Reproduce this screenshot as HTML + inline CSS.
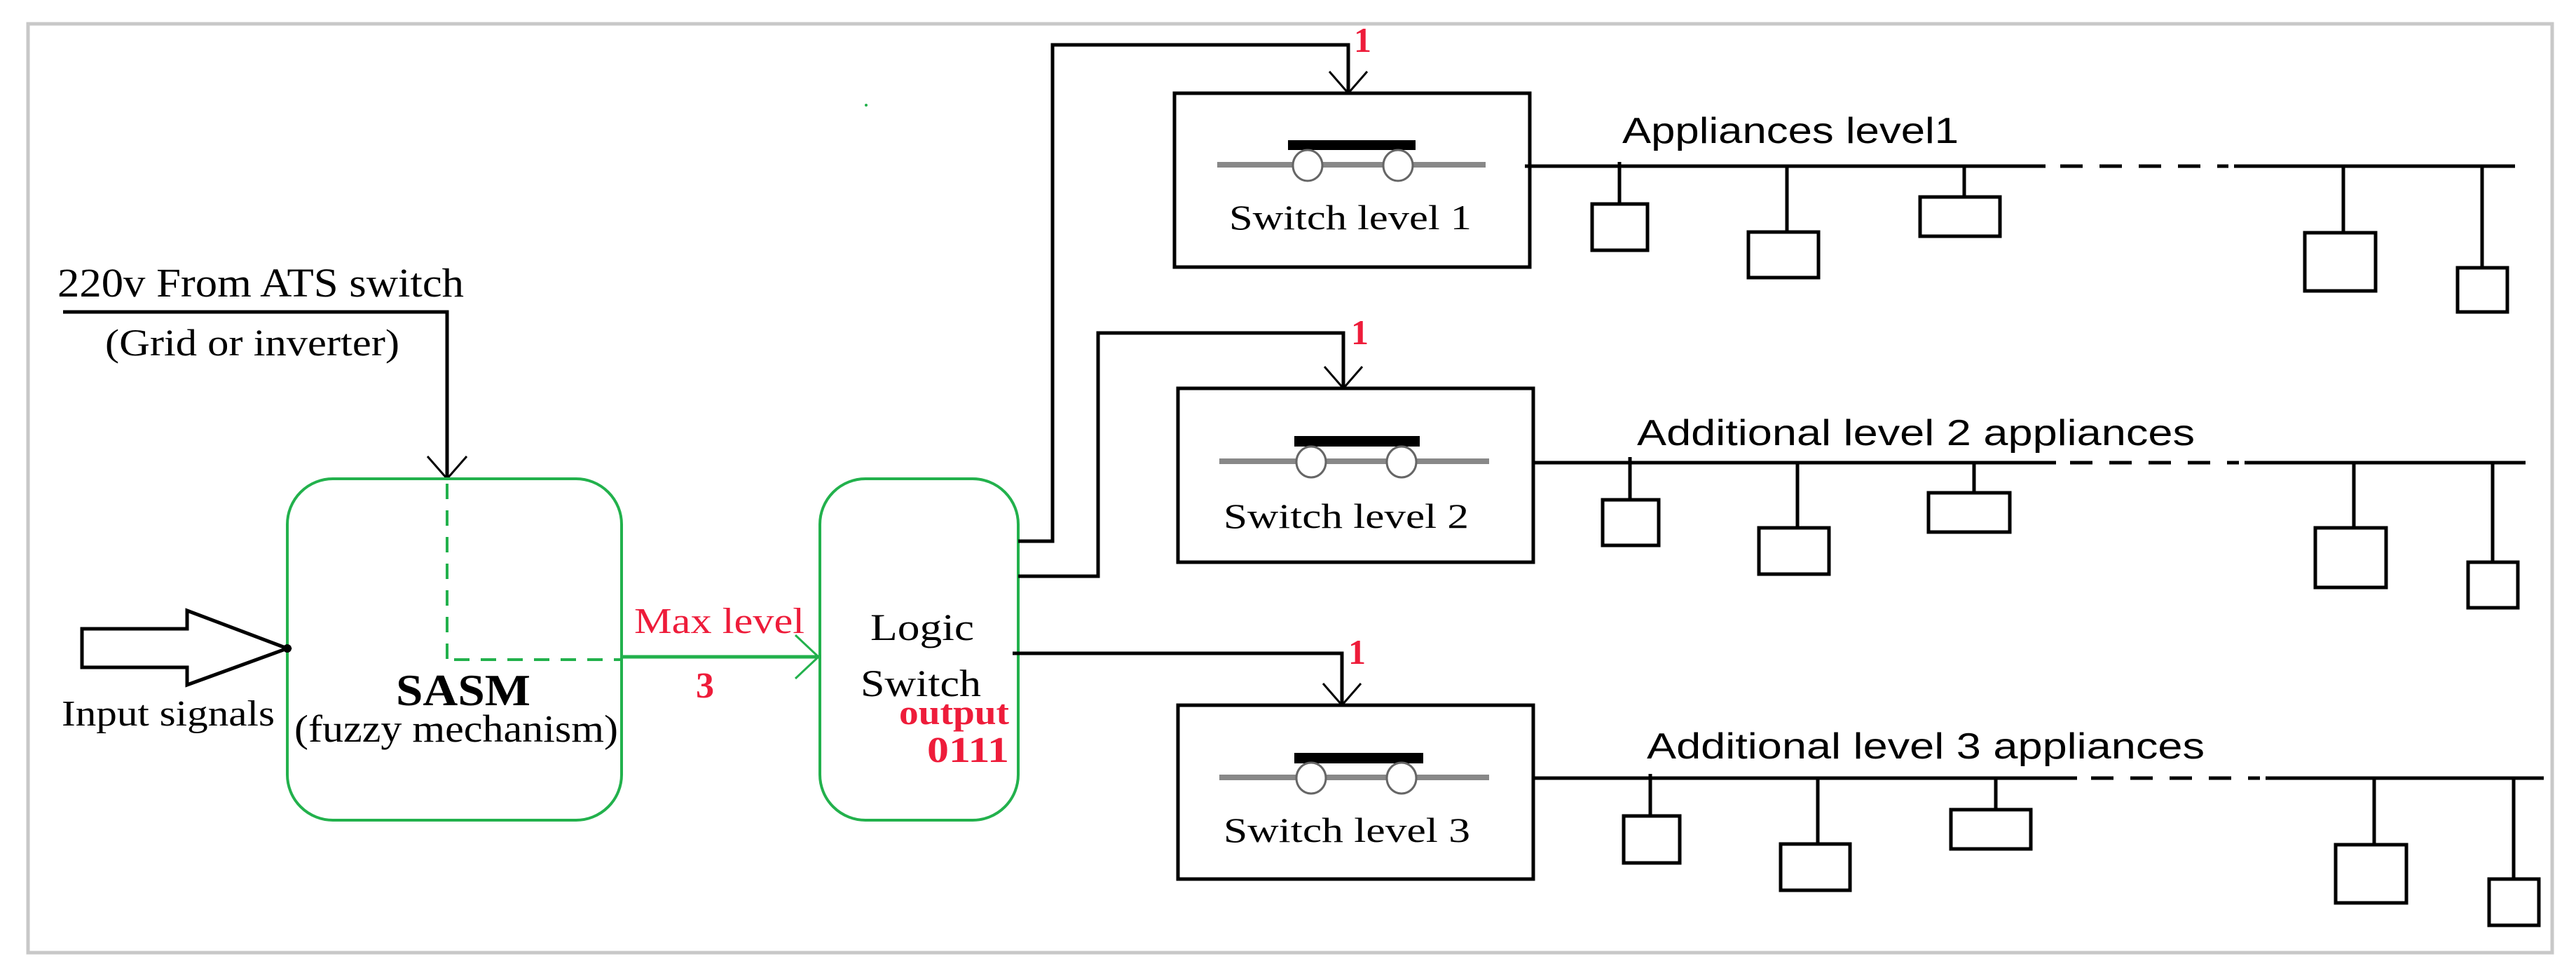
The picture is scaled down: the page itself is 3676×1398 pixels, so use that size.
<!DOCTYPE html>
<html><head><meta charset="utf-8"><style>html,body{margin:0;padding:0;background:#fff}svg{display:block}</style></head>
<body>
<svg width="3676" height="1398" viewBox="0 0 3676 1398" xmlns="http://www.w3.org/2000/svg">
<rect x="0" y="0" width="3676" height="1398" fill="#fff"/>
<rect x="40" y="34" width="3602" height="1325" fill="none" stroke="#c8c8c8" stroke-width="5"/>

<g font-family="'Liberation Serif',serif" fill="#000">
<text x="82" y="423" font-size="58" textLength="580" lengthAdjust="spacingAndGlyphs">220v  From ATS switch</text>
<text x="150" y="507" font-size="54" textLength="420" lengthAdjust="spacingAndGlyphs">(Grid or inverter)</text>
<text x="88" y="1035" font-size="52" textLength="304" lengthAdjust="spacingAndGlyphs">Input signals</text>
<text x="565" y="1006" font-size="64" font-weight="bold" textLength="192" lengthAdjust="spacingAndGlyphs">SASM</text>
<text x="420" y="1058" font-size="55" textLength="462" lengthAdjust="spacingAndGlyphs">(fuzzy mechanism)</text>
<text x="1242" y="913" font-size="54" textLength="148" lengthAdjust="spacingAndGlyphs">Logic</text>
<text x="1228" y="993" font-size="54" textLength="172" lengthAdjust="spacingAndGlyphs">Switch</text>
<text x="1754" y="327" font-size="50" textLength="346" lengthAdjust="spacingAndGlyphs">Switch level 1</text>
<text x="1746" y="753" font-size="50" textLength="350" lengthAdjust="spacingAndGlyphs">Switch level 2</text>
<text x="1746" y="1201" font-size="50" textLength="352" lengthAdjust="spacingAndGlyphs">Switch level 3</text>
</g>
<g font-family="'Liberation Serif',serif" fill="#ee1c3a">
<text x="905" y="903" font-size="52" textLength="243" lengthAdjust="spacingAndGlyphs">Max level</text>
<text x="993" y="995" font-size="52" font-weight="bold">3</text>
<text x="1283" y="1033" font-size="50" font-weight="bold" textLength="157" lengthAdjust="spacingAndGlyphs">output</text>
<text x="1323" y="1087" font-size="52" font-weight="bold" textLength="117" lengthAdjust="spacingAndGlyphs">0111</text>
<text x="1932" y="74" font-size="50" font-weight="bold">1</text>
<text x="1928" y="491" font-size="50" font-weight="bold">1</text>
<text x="1924" y="947" font-size="50" font-weight="bold">1</text>
</g>
<g font-family="'Liberation Sans',sans-serif" fill="#000">
<text x="2315" y="204" font-size="52" textLength="480" lengthAdjust="spacingAndGlyphs">Appliances level1</text>
<text x="2336" y="635" font-size="52" textLength="796" lengthAdjust="spacingAndGlyphs">Additional level 2 appliances</text>
<text x="2350" y="1082" font-size="52" textLength="796" lengthAdjust="spacingAndGlyphs">Additional level 3 appliances</text>
</g>

<!-- 220v feed -->
<g stroke="#000" stroke-width="5" fill="none">
<polyline points="90,445 638,445 638,683"/>
</g>
<g stroke="#000" stroke-width="3" fill="none">
<polyline points="610,651 638,683 666,651"/>
</g>

<!-- SASM -->
<rect x="410" y="683" width="477" height="487" rx="65" ry="65" fill="none" stroke="#22b14c" stroke-width="4"/>
<g stroke="#22b14c" stroke-width="4" fill="none" stroke-dasharray="22,16">
<line x1="638" y1="690" x2="638" y2="941"/>
<line x1="648" y1="941" x2="887" y2="941"/>
</g>
<!-- input arrow -->
<polygon points="117,897 267,897 267,871 410,925 267,977 267,952 117,952" fill="#fff" stroke="#000" stroke-width="5"/>
<circle cx="410" cy="925" r="6" fill="#000"/>

<!-- SASM -> logic -->
<line x1="887" y1="937" x2="1170" y2="937" stroke="#22b14c" stroke-width="5"/>
<polyline points="1135,906 1168,937 1135,968" fill="none" stroke="#22b14c" stroke-width="3"/>

<!-- Logic box -->
<rect x="1170" y="683" width="283" height="487" rx="65" ry="65" fill="none" stroke="#22b14c" stroke-width="4"/>

<!-- connectors to switches -->
<g stroke="#000" stroke-width="5" fill="none">
<polyline points="1453,772 1502,772 1502,64 1924,64 1924,133"/>
<polyline points="1453,822 1567,822 1567,475 1917,475 1917,554"/>
<polyline points="1445,932 1915,932 1915,1006"/>
</g>
<g stroke="#000" stroke-width="3" fill="none">
<polyline points="1897,102 1924,133 1951,102"/>
<polyline points="1890,523 1917,554 1944,523"/>
<polyline points="1888,975 1915,1006 1942,975"/>
</g>

<!-- switch boxes -->
<g stroke="#000" stroke-width="5" fill="none">
<rect x="1676" y="133" width="507" height="248"/>
<rect x="1681" y="554" width="507" height="248"/>
<rect x="1681" y="1006" width="507" height="248"/>
</g>
<!-- switch symbols -->
<g>
<line x1="1737" y1="235" x2="2120" y2="235" stroke="#888" stroke-width="8"/>
<rect x="1838" y="200" width="182" height="14" fill="#000"/>
<ellipse cx="1866" cy="236" rx="21" ry="22" fill="#fff" stroke="#666" stroke-width="3"/>
<ellipse cx="1995" cy="236" rx="21" ry="22" fill="#fff" stroke="#666" stroke-width="3"/>

<line x1="1740" y1="658" x2="2125" y2="658" stroke="#888" stroke-width="8"/>
<rect x="1847" y="622" width="179" height="15" fill="#000"/>
<ellipse cx="1871" cy="659" rx="21" ry="22" fill="#fff" stroke="#666" stroke-width="3"/>
<ellipse cx="2000" cy="659" rx="21" ry="22" fill="#fff" stroke="#666" stroke-width="3"/>

<line x1="1740" y1="1109" x2="2125" y2="1109" stroke="#888" stroke-width="8"/>
<rect x="1847" y="1074" width="184" height="15" fill="#000"/>
<ellipse cx="1871" cy="1110" rx="21" ry="22" fill="#fff" stroke="#666" stroke-width="3"/>
<ellipse cx="2000" cy="1110" rx="21" ry="22" fill="#fff" stroke="#666" stroke-width="3"/>
</g>

<!-- buses -->
<g stroke="#000" stroke-width="5" fill="none">
<line x1="2176" y1="237" x2="2919" y2="237"/>
<line x1="2940" y1="237" x2="3180" y2="237" stroke-dasharray="32,24"/>
<line x1="3188" y1="237" x2="3589" y2="237"/>
<line x1="2188" y1="660" x2="2934" y2="660"/>
<line x1="2954" y1="660" x2="3195" y2="660" stroke-dasharray="32,24"/>
<line x1="3203" y1="660" x2="3604" y2="660"/>
<line x1="2188" y1="1110" x2="2964" y2="1110"/>
<line x1="2984" y1="1110" x2="3225" y2="1110" stroke-dasharray="32,24"/>
<line x1="3233" y1="1110" x2="3630" y2="1110"/>
</g>
<!-- appliances level 1 -->
<g stroke="#000" stroke-width="5" fill="#fff">
<line x1="2311" y1="231" x2="2311" y2="291"/><rect x="2272" y="291" width="79" height="66"/>
<line x1="2550" y1="237" x2="2550" y2="331"/><rect x="2495" y="331" width="100" height="65"/>
<line x1="2803" y1="237" x2="2803" y2="281"/><rect x="2740" y="281" width="114" height="56"/>
<line x1="3344" y1="237" x2="3344" y2="332"/><rect x="3289" y="332" width="101" height="83"/>
<line x1="3542" y1="237" x2="3542" y2="382"/><rect x="3507" y="382" width="71" height="63"/>

<line x1="2326" y1="652" x2="2326" y2="713"/><rect x="2287" y="713" width="80" height="65"/>
<line x1="2565" y1="660" x2="2565" y2="753"/><rect x="2510" y="753" width="100" height="66"/>
<line x1="2817" y1="660" x2="2817" y2="703"/><rect x="2752" y="703" width="116" height="56"/>
<line x1="3359" y1="660" x2="3359" y2="753"/><rect x="3304" y="753" width="101" height="85"/>
<line x1="3557" y1="660" x2="3557" y2="802"/><rect x="3522" y="802" width="71" height="65"/>

<line x1="2355" y1="1104" x2="2355" y2="1164"/><rect x="2317" y="1164" width="80" height="67"/>
<line x1="2594" y1="1110" x2="2594" y2="1204"/><rect x="2541" y="1204" width="99" height="66"/>
<line x1="2848" y1="1110" x2="2848" y2="1155"/><rect x="2784" y="1155" width="114" height="56"/>
<line x1="3388" y1="1110" x2="3388" y2="1205"/><rect x="3333" y="1205" width="101" height="83"/>
<line x1="3587" y1="1110" x2="3587" y2="1254"/><rect x="3552" y="1254" width="71" height="66"/>
</g>
<circle cx="1236" cy="150" r="2" fill="#22b14c"/>
</svg>
</body></html>
